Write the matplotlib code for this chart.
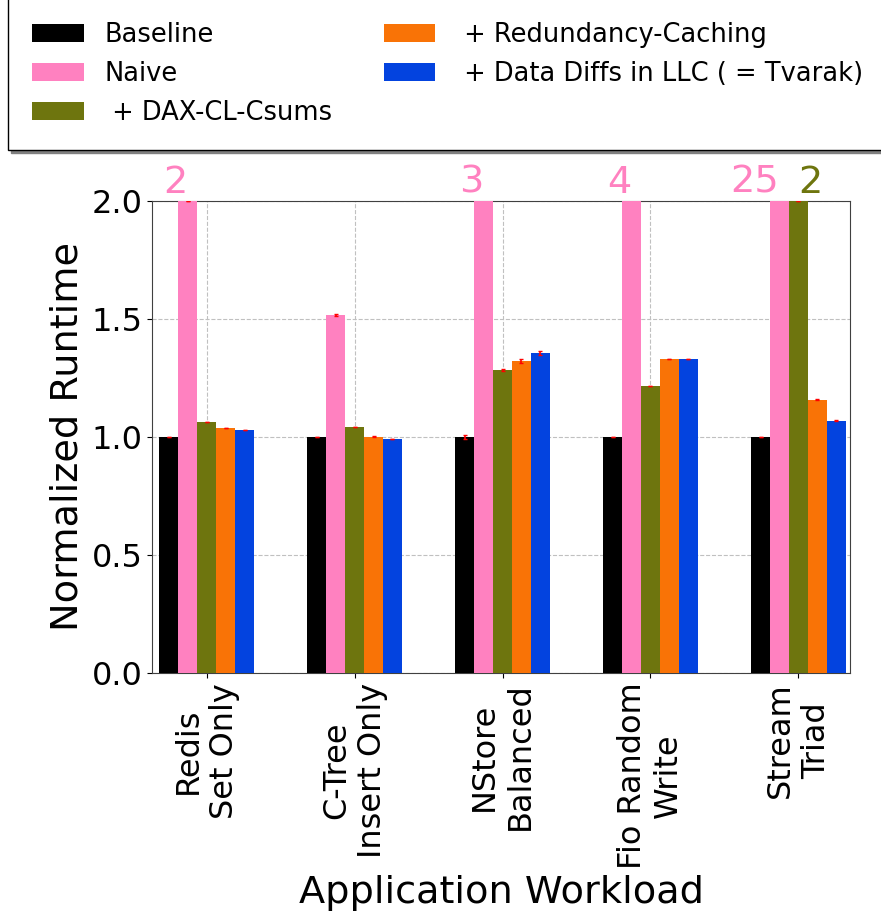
import numpy as np
import matplotlib
matplotlib.use("Agg")
import matplotlib.pyplot as plt

workloads = ["Redis\nSet Only", "C-Tree\nInsert Only", "NStore\nBalanced",
             "Fio Random\nWrite", "Stream\nTriad"]
series = ["Baseline", "Naive", " + DAX-CL-Csums", " + Redundancy-Caching",
          " + Data Diffs in LLC ( = Tvarak)"]
colors = ["#000000", "#ff81c0", "#6e750e", "#f97306", "#0343df"]

baseline = [1.0, 1.0, 1.0, 1.0, 1.0]
naive = [2, 1.517, 3, 4, 25]
dax = [1.064, 1.042, 1.284, 1.216, 2]
redund = [1.038, 1.0, 1.322, 1.331, 1.157]
tvarak = [1.03, 0.992, 1.356, 1.331, 1.068]
values = [baseline, naive, dax, redund, tvarak]

err_base = [0.0, 0.0, 0.008, 0.0, 0.0]
err_naive = [0.0, 0.004, 0.0, 0.0, 0.0]
err_dax = [0.0, 0.0, 0.006, 0.0, 0.0]
err_red = [0.0, 0.002, 0.007, 0.0, 0.002]
err_tv = [0.0, 0.0, 0.007, 0.0, 0.002]
errors = [err_base, err_naive, err_dax, err_red, err_tv]

fig = plt.figure(figsize=(8.81, 9.21), dpi=100)
ax = fig.add_axes([0.1725, 0.2693, 0.7925, 0.5125])

x = np.arange(len(workloads))
w = 0.128
for i in range(5):
    pos = x + (i - 2) * w
    ax.bar(pos, values[i], w, color=colors[i], label=series[i],
           yerr=errors[i], ecolor="red", capsize=1.5,
           error_kw={"elinewidth": 1.2}, zorder=3)

# labels for bars that go off the top
for j in range(len(workloads)):
    if naive[j] >= 2:
        ax.text(x[j] - w, 2.0, "%d" % naive[j], color=colors[1],
                ha="right", va="bottom", fontsize=27.5)
    if dax[j] >= 2:
        ax.text(x[j], 2.0, "%d" % dax[j], color=colors[2],
                ha="left", va="bottom", fontsize=27.5)

ax.set_ylim(0, 2.0)
ax.set_xlim(-0.37, 4.35)
ax.set_yticks([0.0, 0.5, 1.0, 1.5, 2.0])
ax.set_xticks(x)
ax.set_xticklabels(workloads, rotation=90, fontsize=23)
ax.tick_params(axis="y", labelsize=23)
ax.set_ylabel("Normalized Runtime", fontsize=27.5)
ax.set_xlabel("Application Workload", fontsize=27.5)
ax.grid(linestyle="--", linewidth=0.8, color="#c0c0c0", zorder=0)
ax.set_axisbelow(True)
for s in ax.spines.values():
    s.set_color("0.25")

fig.legend(loc="lower left", bbox_to_anchor=(8 / 881, 1 - 150 / 921),
           ncol=2, fontsize=18.5, borderpad=0.95, fancybox=False,
           shadow={"color": "0.5", "alpha": 1}, edgecolor="black",
           framealpha=1, borderaxespad=0)

fig.savefig("out.png", dpi=100)
